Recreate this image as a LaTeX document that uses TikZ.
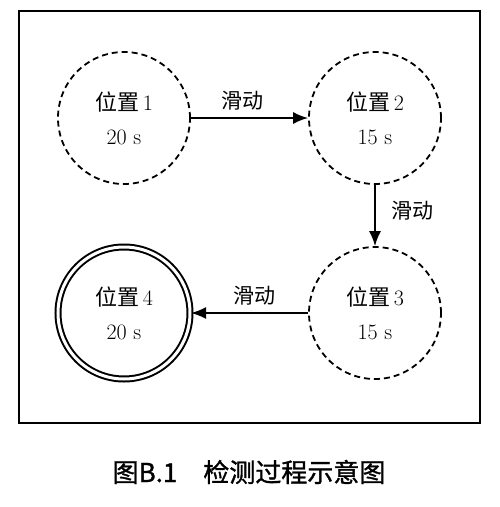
\documentclass[tikz,border=0pt]{standalone}
\usepackage{fontspec}
\newfontfamily\cjk{Noto Sans CJK SC}
\newfontfamily\cjkcap{Noto Sans CJK SC}[FakeBold=1.2]
\usetikzlibrary{arrows.meta}

\tikzset{
  posnode/.style={circle, draw, line width=1.8pt, dash pattern=on 6pt off 4pt,
    minimum size=132pt, inner sep=0pt, align=center, font=\fontsize{22}{26}\selectfont},
  lastnode/.style={circle, draw, line width=2pt, double, double distance=3pt,
    minimum size=132pt, inner sep=0pt, align=center, font=\fontsize{22}{26}\selectfont},
  moveline/.style={-{Latex[length=15pt,width=12pt]}, line width=1.7pt},
  movelabel/.style={font=\cjk\fontsize{21}{24}\selectfont}
}

\begin{document}
\begin{tikzpicture}[x=1pt, y=-1pt]
    \useasboundingbox (0,0) rectangle (499,507);

    % frame
    \draw[line width=1.8pt] (19,11) rectangle (480,423);

    % positions
    \node[posnode] (p1) at (124,118) {{\cjk 位置}\,1\\[8pt]20 s};
    \node[posnode] (p2) at (375,118) {{\cjk 位置}\,2\\[8pt]15 s};
    \node[posnode] (p3) at (375,313) {{\cjk 位置}\,3\\[8pt]15 s};
    \node[lastnode] (p4) at (124,313) {{\cjk 位置}\,4\\[8pt]20 s};

    % moves
    \draw[moveline] (p1) -- node[movelabel, above=4pt, xshift=-7pt] {滑动} (p2);
    \draw[moveline] (p2) -- node[movelabel, right=12pt, yshift=5pt] {滑动} (p3);
    \draw[moveline] (p3) -- node[movelabel, above=4pt, xshift=5pt] {滑动} (p4);

    % caption
    \node[font=\cjkcap\fontsize{26}{29}\selectfont] (cap) at (249,472) {图B.1\quad 检测过程示意图};
  \end{tikzpicture}
\end{document}
